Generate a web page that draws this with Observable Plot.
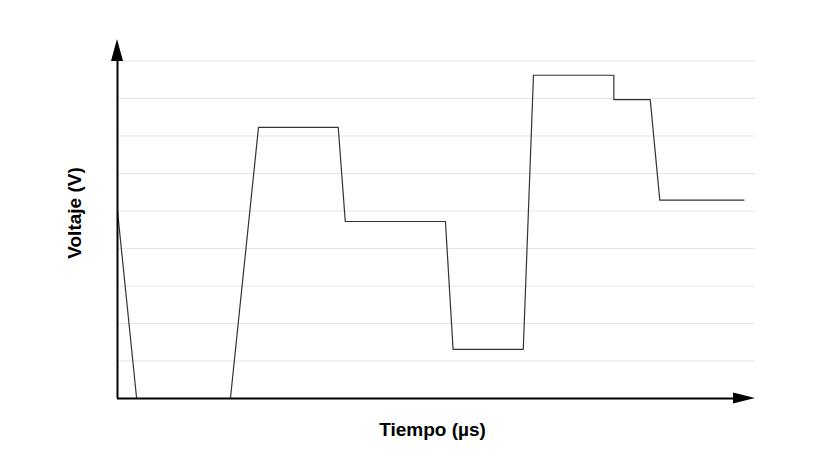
<!DOCTYPE html>
<html>
<head>
<meta charset="utf-8">
<script src="https://cdn.jsdelivr.net/npm/d3@7"></script>
<script src="https://cdn.jsdelivr.net/npm/@observablehq/plot@0.6"></script>
<style>
  html, body { margin: 0; padding: 0; background: #fff; }
  svg { display: block; }
</style>
</head>
<body>
<div id="chart"></div>
<script>
// Time (µs, arbitrary units) and voltage (V, arbitrary units)
const tiempo  = [0, 3.0, 17.7, 22.1, 34.6, 35.7, 51.4, 52.6, 63.6, 65.2, 77.8, 77.8, 83.5, 85.0, 98.2];
const voltaje = [5.0, 0, 0, 7.23, 7.23, 4.72, 4.72, 1.31, 1.31, 8.62, 8.62, 7.97, 7.97, 5.29, 5.29];
const gridLevels = [1, 2, 3, 4, 5, 6, 7, 8, 9];
const xLabel = "Tiempo (µs)";
const yLabel = "Voltaje (V)";
const xMax = 100;
const yMax = 9.573;

const data = tiempo.map((t, i) => ({t, v: voltaje[i]}));
const font = "'Liberation Sans', Arial, Helvetica, sans-serif";

const plot = Plot.plot({
  width: 825,
  height: 464,
  marginLeft: 117,
  marginRight: 70,
  marginTop: 39,
  marginBottom: 66,
  style: {fontFamily: font, background: "#fff"},
  x: {domain: [0, xMax], axis: null},
  y: {domain: [0, yMax], axis: null},
  marks: [
    Plot.ruleY(gridLevels, {x1: 0, x2: xMax, stroke: "#e4e4e4", strokeWidth: 1}),
    Plot.line(data, {x: "t", y: "v", stroke: "#333", strokeWidth: 1.2}),
    Plot.ruleY([0], {x1: 0, x2: xMax - 3.4, stroke: "#000", strokeWidth: 2}),
    Plot.ruleX([0], {y1: 0, y2: 9.0, stroke: "#000", strokeWidth: 2}),
    Plot.text([xLabel], {frameAnchor: "bottom", text: d => d, textAnchor: "middle", lineAnchor: "middle",
      dx: -4, dy: 31, fontSize: 19, fontWeight: "bold", fill: "#000"}),
    Plot.text([yLabel], {frameAnchor: "left", text: d => d, textAnchor: "middle", lineAnchor: "middle",
      rotate: -90, dx: -43, dy: -6, fontSize: 19, fontWeight: "bold", fill: "#000"})
  ]
});

// filled arrowheads at the ends of the axes, positioned through the plot's scales
const sx = plot.scale("x"), sy = plot.scale("y");
const x0 = sx.apply(0), y0 = sy.apply(0);
const xEnd = sx.apply(xMax), yEnd = sy.apply(yMax);
const svg = d3.select(plot);
svg.append("path")
  .attr("d", `M${xEnd},${y0}L${xEnd - 22},${y0 - 5.5}L${xEnd - 22},${y0 + 5.5}Z`)
  .attr("fill", "#000");
svg.append("path")
  .attr("d", `M${x0},${yEnd}L${x0 - 6},${yEnd + 22}L${x0 + 6},${yEnd + 22}Z`)
  .attr("fill", "#000");

document.getElementById("chart").appendChild(plot);
</script>
</body>
</html>
